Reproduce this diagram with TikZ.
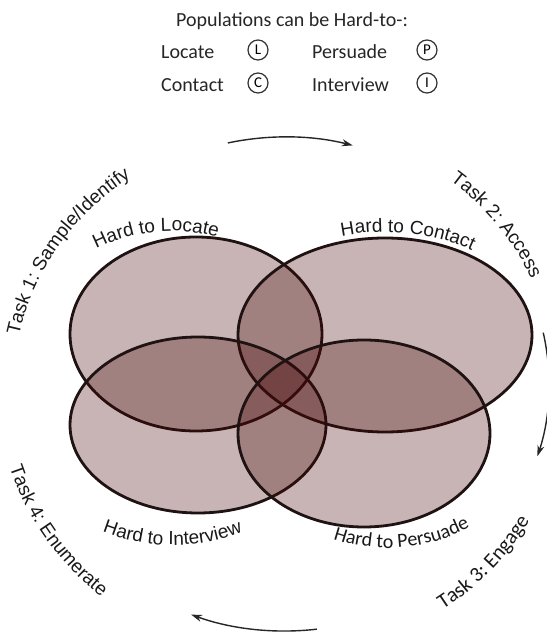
\documentclass[tikz,border=0pt]{standalone}
\usepackage{fontspec}
\usepackage{tikz}
\usetikzlibrary{shapes.geometric,arrows.meta,decorations.text}
\newfontfamily\arialfont{Liberation Sans}
\newfontfamily\calibrifont{Carlito}
\newcommand{\hardfont}{\arialfont\fontsize{19}{19}\selectfont}
\newcommand{\engagefont}{\calibrifont\fontsize{20}{20}\selectfont}
\definecolor{vennfill}{RGB}{72,8,8}
\definecolor{vennline}{RGB}{30,18,18}
\tikzstyle{venn} = [ellipse, draw=vennline, line width=2.8pt, fill=vennfill, fill opacity=0.3, inner sep=0pt]
\tikzstyle{badge} = [circle, draw=black!80, line width=1.2pt, minimum size=20pt, inner sep=0pt, font=\calibrifont\fontsize{15}{15}\selectfont]
\tikzstyle{keytext} = [anchor=west, inner sep=0pt, text=black!85, font=\calibrifont\fontsize{20}{20}\selectfont]
\tikzstyle{arclabel} = [decorate, decoration={text along path, text align=center, text color=black!90}]
\tikzstyle{cycle} = [line width=1.4pt, draw=black!85, -{Stealth[length=11pt,width=7pt]}]

\begin{document}
\begin{tikzpicture}[x=1pt, y=1pt]
    \useasboundingbox (0,0) rectangle (547,633);
    \clip (0,0) rectangle (547,633);

    % legend
    \node[inner sep=0pt, text=black!85, font=\calibrifont\fontsize{20}{20}\selectfont] (title) at (292,612) {Populations can be Hard-to-:};
    \node[keytext] (kLocate) at (161,581) {Locate};
    \node[badge] (bL) at (258,583) {L};
    \node[keytext] (kPersuade) at (312,581) {Persuade};
    \node[badge] (bP) at (427,583) {P};
    \node[keytext] (kContact) at (161,548) {Contact};
    \node[badge] (bC) at (258,550) {C};
    \node[keytext] (kInterview) at (312,548) {Interview};
    \node[badge] (bI) at (427,550) {I};

    % the four sets
    \node[venn, minimum width=252, minimum height=194] (locate) at (196,299) {};
    \node[venn, minimum width=294, minimum height=194] (contact) at (385,298) {};
    \node[venn, minimum width=256, minimum height=176] (interview) at (198,208) {};
    \node[venn, minimum width=252, minimum height=187] (persuade) at (364,199.5) {};

    % set labels
    \coordinate (cLocate) at (172,232);
    \coordinate (cInterview) at (172.5,281);
    \coordinate (cPersuade) at (388,255);
    \path[arclabel, decoration={text={|\hardfont|Hard to Locate}}]
        (cLocate) ++(130:170) arc[start angle=130, end angle=61, radius=170];
    \path[arclabel, decoration={text={|\hardfont|Hard to Contact}}]
        (contact.center) ++(115:153 and 103) arc[start angle=115, end angle=46, x radius=153, y radius=103];
    \path[arclabel, decoration={text={|\hardfont|Hard to Interview}}]
        (cInterview) ++(235:193) arc[start angle=235, end angle=305, radius=193];
    \path[arclabel, decoration={text={|\engagefont|Hard to Persuade}}]
        (cPersuade) ++(240:170) arc[start angle=240, end angle=310, radius=170];

    % tasks round the cycle
    \coordinate (hub) at (285,249);
    \path[arclabel, decoration={text={|\hardfont|Task 1: Sample/Identify}}]
        (hub) ++(177:271 and 251) arc[start angle=177, end angle=117, x radius=271, y radius=251];
    \path[arclabel, decoration={text={|\hardfont|Task 2: Access}}]
        (hub) ++(66:270 and 257) arc[start angle=66, end angle=10, x radius=270, y radius=257];
    \path[arclabel, decoration={text={|\calibrifont\fontsize{21}{21}\selectfont|Task 3: Engage}}]
        (hub) ++(295:283 and 272) arc[start angle=295, end angle=339, x radius=283, y radius=272];
    \path[arclabel, decoration={text={|\hardfont|Task 4: Enumerate}}]
        (hub) ++(190:289 and 276) arc[start angle=190, end angle=238, x radius=289, y radius=276];

    % arrows
    \draw[cycle] (hub) ++(102.6:262 and 247) arc[start angle=102.6, end angle=75, x radius=262, y radius=247];
    \draw[cycle] (hub) ++(12:264 and 247) arc[start angle=12, end angle=-17, x radius=264, y radius=247];
    \draw[cycle] (hub) ++(-83:262 and 247) arc[start angle=-83, end angle=-111, x radius=262, y radius=247];
\end{tikzpicture}
\end{document}
